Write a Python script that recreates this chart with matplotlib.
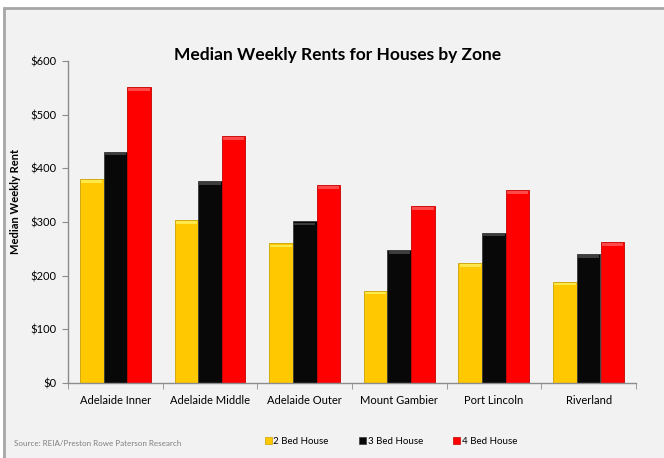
import matplotlib
matplotlib.use("Agg")
import matplotlib.pyplot as plt
import numpy as np
from matplotlib.patches import Rectangle, Patch
from matplotlib.ticker import FuncFormatter

plt.rcParams["font.family"] = ["Lato", "DejaVu Sans"]

# Data
zones = ["Adelaide Inner", "Adelaide Middle", "Adelaide Outer",
         "Mount Gambier", "Port Lincoln", "Riverland"]
bed2 = [380, 303, 260, 172, 224, 189]
bed3 = [431, 376, 301, 248, 280, 240]
bed4 = [551, 460, 369, 330, 359, 263]
series_names = ["2 Bed House", "3 Bed House", "4 Bed House"]
colors = ["#FFC800", "#080808", "#FE0000"]
cap_colors = ["#FFE84a", "#3c3c3c", "#FF4848"]
edge_colors = ["#c9a200", "#3a3a3a", "#c80000"]

bg = "#f2f2f2"
fig = plt.figure(figsize=(6.64, 4.58), dpi=100, facecolor="white")

# chart frame
fig.patches.append(Rectangle((4 / 664, -0.1), 1.2, 1 - 8 / 458 + 0.1,
                             transform=fig.transFigure, facecolor=bg,
                             edgecolor="#a6a6a6", linewidth=2, zorder=-10))

ax = fig.add_axes([68 / 664, 1 - 383 / 458, (636 - 68) / 664, (383 - 61) / 458])
ax.set_facecolor("none")

x = np.arange(len(zones))
w = 0.25
for i, vals in enumerate([bed2, bed3, bed4]):
    pos = x + (i - 1) * w
    ax.bar(pos, vals, width=w, color=colors[i], edgecolor=edge_colors[i],
           linewidth=0.6, zorder=2)
    # bevelled top cap
    ax.bar(pos, [5] * len(vals), bottom=np.array(vals) - 7, width=w * 0.9,
           color=cap_colors[i], linewidth=0, zorder=3)

ax.set_xlim(-0.5, len(zones) - 0.5)
ax.set_ylim(0, 600)
ax.set_yticks(range(0, 601, 100))
ax.yaxis.set_major_formatter(FuncFormatter(lambda v, _: f"${int(v)}"))
ax.set_xticks(x)
ax.set_xticklabels(zones, fontsize=8)
ax.set_xticks(np.arange(-0.5, len(zones)), minor=True)
ax.tick_params(axis="x", which="major", length=0, pad=9)
ax.tick_params(axis="x", which="minor", length=4, color="#8c8c8c")
ax.tick_params(axis="y", length=4, color="#8c8c8c", labelsize=8, pad=4)
for s in ["top", "right"]:
    ax.spines[s].set_visible(False)
for s in ["left", "bottom"]:
    ax.spines[s].set_color("#8c8c8c")
    ax.spines[s].set_linewidth(1)

ax.set_ylabel("Median Weekly Rent", fontsize=8, fontweight="bold")
ax.yaxis.set_label_coords(-0.083, 0.565)

fig.text(338 / 664, 1 - 55 / 458, "Median Weekly Rents for Houses by Zone",
         ha="center", va="center", fontsize=12.5, fontweight="bold")

fig.text(14 / 664, 1 - 443 / 458, "Source: REIA/Preston Rowe Paterson Research",
         ha="left", va="center", fontsize=5.8, color="#808080")

handles = [Patch(facecolor=colors[i], edgecolor=edge_colors[i], linewidth=0.5)
           for i in range(3)]
fig.legend(handles, series_names, ncol=3, loc="center",
           bbox_to_anchor=(391 / 664, 1 - 441 / 458), frameon=False,
           fontsize=7, handlelength=0.7, handleheight=0.7, handletextpad=0.2,
           columnspacing=3.1)

fig.savefig("out.png", dpi=100, facecolor=fig.get_facecolor())
